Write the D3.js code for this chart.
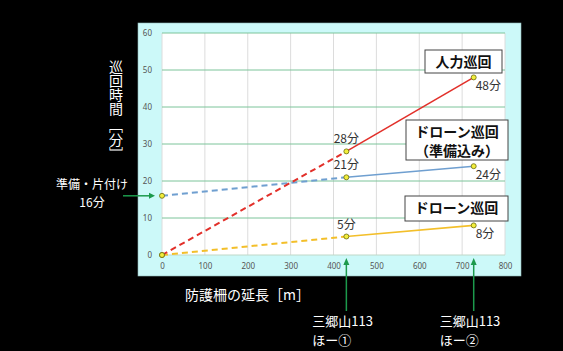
<!DOCTYPE html>
<html>
<head>
<meta charset="utf-8">
<script src="https://cdn.jsdelivr.net/npm/d3@7"></script>
<style>
  body { margin: 0; background: #000; }
  svg { display: block; font-family: "Noto Sans CJK JP", "Noto Sans", sans-serif; }
</style>
</head>
<body>
<script>
// chart values
const lengths = [0, 430, 727];             // 防護柵の延長 [m]
const manualTimes = [0, 28, 48];           // 人力巡回
const droneWithPrep = [16, 21, 24];        // ドローン巡回（準備込み）
const droneTimes = [0, 5, 8];              // ドローン巡回
const xTicks = [0, 100, 200, 300, 400, 500, 600, 700, 800];
const yTicks = [0, 10, 20, 30, 40, 50, 60];
const siteNames = [["三郷山113", "ほー①"], ["三郷山113", "ほー②"]];
const siteLengths = [430, 727];

const width = 563, height = 351;

const svg = d3.select("body")
  .append("svg")
  .attr("width", width)
  .attr("height", height);

svg.append("rect").attr("width", width).attr("height", height).attr("fill", "#000");

// light cyan panel
svg.append("rect")
  .attr("x", 138).attr("y", 23)
  .attr("width", 383).attr("height", 253)
  .attr("fill", "#ccf9f9")
  .attr("stroke", "#8fb8b8").attr("stroke-width", 0.6);

const xScale = d3.scaleLinear().domain([0, 800]).range([162, 505]);
const yScale = d3.scaleLinear().domain([0, 60]).range([255, 33]);

// plot area
svg.append("rect")
  .attr("x", xScale(0)).attr("y", yScale(60))
  .attr("width", xScale(800) - xScale(0))
  .attr("height", yScale(0) - yScale(60))
  .attr("fill", "#fff");

// vertical grid
svg.append("g").selectAll("line")
  .data(xTicks)
  .join("line")
  .attr("x1", d => xScale(d)).attr("x2", d => xScale(d))
  .attr("y1", yScale(60)).attr("y2", yScale(0))
  .attr("stroke", "#dcdcdc").attr("stroke-width", 1);

// horizontal grid
svg.append("g").selectAll("line")
  .data(yTicks)
  .join("line")
  .attr("x1", xScale(0)).attr("x2", xScale(800))
  .attr("y1", d => yScale(d)).attr("y2", d => yScale(d))
  .attr("stroke", d => d === 0 ? "#bfd8c8" : "#7cc49a").attr("stroke-width", 1);

// axes
const xAxis = d3.axisBottom(xScale).tickValues(xTicks).tickSize(0).tickPadding(8);
const yAxis = d3.axisLeft(yScale).tickValues(yTicks).tickSize(0).tickPadding(10);

const gx = svg.append("g").attr("transform", "translate(0," + yScale(0) + ")").call(xAxis);
const gy = svg.append("g").attr("transform", "translate(" + xScale(0) + ",0)").call(yAxis);
[gx, gy].forEach(g => {
  g.select(".domain").remove();
  g.selectAll("text")
    .attr("fill", "#555")
    .style("font-size", "8px")
    .style("font-family", "'Noto Sans', sans-serif");
});

// series lines: dashed to the first site, solid between the sites
const series = [
  { values: droneTimes, color: "#f3bf2a" },
  { values: droneWithPrep, color: "#6f9fd0" },
  { values: manualTimes, color: "#e2302a" }
];

series.forEach(s => {
  svg.append("line")
    .attr("x1", xScale(lengths[0])).attr("y1", yScale(s.values[0]))
    .attr("x2", xScale(lengths[1])).attr("y2", yScale(s.values[1]))
    .attr("stroke", s.color).attr("stroke-width", 2)
    .attr("stroke-dasharray", "6,4");
  svg.append("line")
    .attr("x1", xScale(lengths[1])).attr("y1", yScale(s.values[1]))
    .attr("x2", xScale(lengths[2])).attr("y2", yScale(s.values[2]))
    .attr("stroke", s.color).attr("stroke-width", 1.6);
});

// markers
series.forEach(s => {
  svg.append("g").selectAll("circle")
    .data(s.values)
    .join("circle")
    .attr("cx", (d, i) => xScale(lengths[i]))
    .attr("cy", d => yScale(d))
    .attr("r", 2.5)
    .attr("fill", "#f2ee3c")
    .attr("stroke", "#6a6a10").attr("stroke-width", 0.8);
});

// value labels
series.forEach(s => {
  svg.append("text")
    .attr("x", xScale(lengths[1]))
    .attr("y", yScale(s.values[1]) - 8)
    .attr("text-anchor", "middle")
    .attr("fill", "#333").style("font-size", "12px")
    .text(s.values[1] + "分");
  svg.append("text")
    .attr("x", xScale(lengths[2]) + 2)
    .attr("y", yScale(s.values[2]) + 13)
    .attr("fill", "#333").style("font-size", "12px")
    .text(s.values[2] + "分");
});

// legend boxes
function labelBox(x, y, w, h, lines) {
  svg.append("rect")
    .attr("x", x).attr("y", y).attr("width", w).attr("height", h)
    .attr("fill", "#fff").attr("stroke", "#444").attr("stroke-width", 1);
  lines.forEach((t, i) => {
    svg.append("text")
      .attr("x", x + w / 2)
      .attr("y", y + 17 + i * 19)
      .attr("text-anchor", "middle")
      .attr("fill", "#111")
      .style("font-size", "14px").style("font-weight", "bold")
      .text(t);
  });
}
labelBox(425, 50, 77, 23, ["人力巡回"]);
labelBox(406, 120, 102, 40, ["ドローン巡回", "（準備込み）"]);
labelBox(405, 196, 103, 25, ["ドローン巡回"]);

// axis titles
svg.append("text")
  .attr("x", 116).attr("y", 60)
  .style("writing-mode", "vertical-rl")
  .attr("fill", "#fff").style("font-size", "14px")
  .text("巡回時間 ［分］");

svg.append("text")
  .attr("x", 185).attr("y", 300)
  .attr("fill", "#fff").style("font-size", "14px")
  .text("防護柵の延長［m］");

// left note and arrow
const green = "#1c9a4c";
svg.append("text")
  .attr("x", 92).attr("y", 189)
  .attr("text-anchor", "middle")
  .attr("fill", "#fff").style("font-size", "12px")
  .text("準備・片付け");
svg.append("text")
  .attr("x", 92).attr("y", 207)
  .attr("text-anchor", "middle")
  .attr("fill", "#fff").style("font-size", "12px")
  .text(droneWithPrep[0] + "分");

const ay = yScale(droneWithPrep[0]);
svg.append("line")
  .attr("x1", 123).attr("x2", 150)
  .attr("y1", ay).attr("y2", ay)
  .attr("stroke", green).attr("stroke-width", 1.5);
svg.append("path")
  .attr("d", `M155,${ay} L149,${ay - 3} L149,${ay + 3} Z`)
  .attr("fill", green);

// site arrows and names
siteLengths.forEach((len, i) => {
  const sx = xScale(len);
  svg.append("line")
    .attr("x1", sx).attr("x2", sx)
    .attr("y1", 311).attr("y2", 264)
    .attr("stroke", green).attr("stroke-width", 1.5);
  svg.append("path")
    .attr("d", `M${sx},258 L${sx - 3},265 L${sx + 3},265 Z`)
    .attr("fill", green);
  siteNames[i].forEach((t, j) => {
    svg.append("text")
      .attr("x", sx - 34)
      .attr("y", 326 + j * 19)
      .attr("fill", "#fff").style("font-size", "13px")
      .text(t);
  });
});
</script>
</body>
</html>
